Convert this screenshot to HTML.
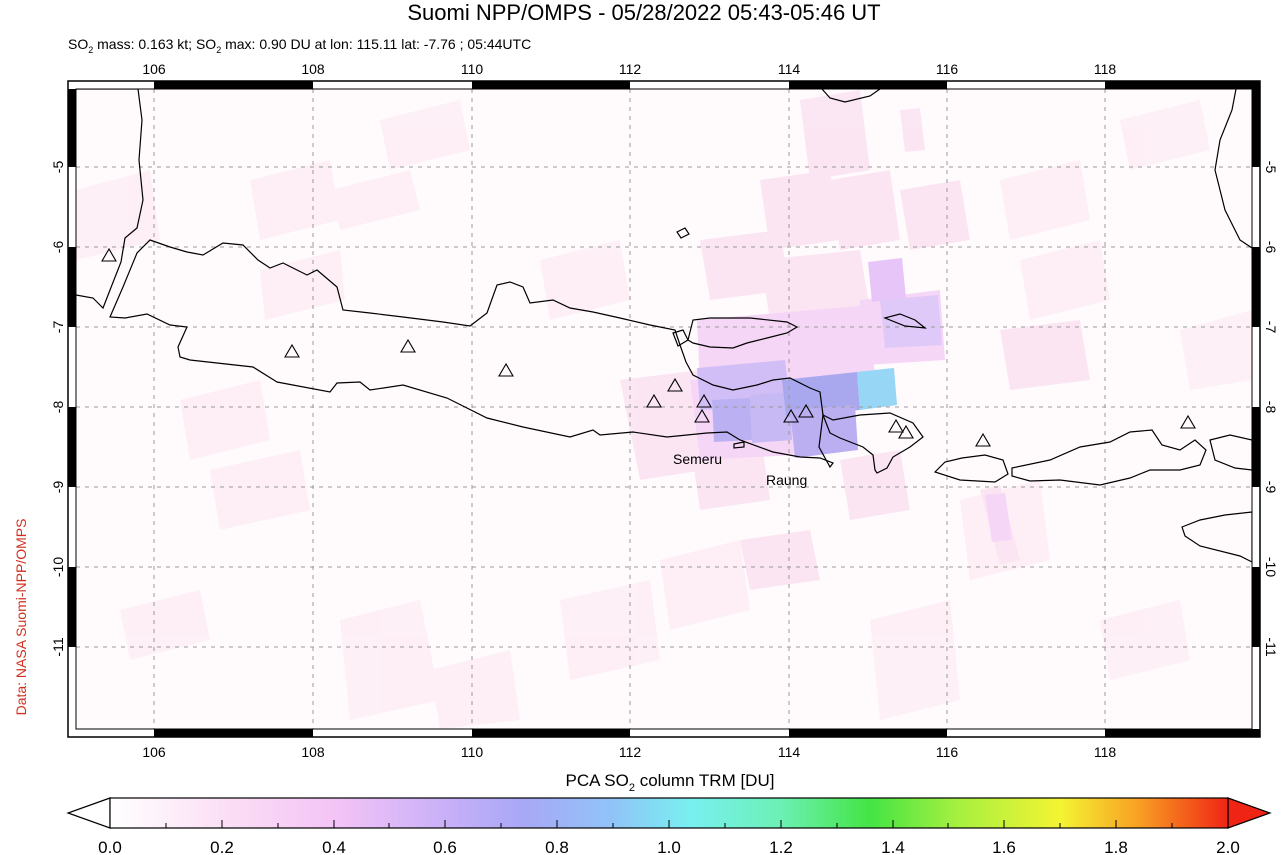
<!DOCTYPE html>
<html><head><meta charset="utf-8"><style>
html,body{margin:0;padding:0;background:#fff;}
svg{display:block;font-family:"Liberation Sans",Arial,sans-serif;}
</style></head><body>
<svg width="1288" height="855" viewBox="0 0 1288 855" xmlns="http://www.w3.org/2000/svg">
<defs>
<linearGradient id="cb" x1="0" x2="1" y1="0" y2="0">
<stop offset="0" stop-color="#ffffff"/>
<stop offset="0.1" stop-color="#fbe0f5"/>
<stop offset="0.2" stop-color="#f4c4f6"/>
<stop offset="0.3" stop-color="#c8b0f8"/>
<stop offset="0.37" stop-color="#a8a8f6"/>
<stop offset="0.45" stop-color="#90c4f8"/>
<stop offset="0.52" stop-color="#78f0f0"/>
<stop offset="0.6" stop-color="#6cf0b4"/>
<stop offset="0.68" stop-color="#44e444"/>
<stop offset="0.76" stop-color="#a8f040"/>
<stop offset="0.85" stop-color="#f4f432"/>
<stop offset="0.92" stop-color="#f8a024"/>
<stop offset="1" stop-color="#f02414"/>
</linearGradient>
<clipPath id="mc"><rect x="76" y="89" width="1176" height="640"/></clipPath>
</defs>
<rect width="1288" height="855" fill="#fff"/>
<text x="644" y="20" font-size="22" text-anchor="middle">Suomi NPP/OMPS - 05/28/2022 05:43-05:46 UT</text>
<text x="68" y="49" font-size="14">SO<tspan font-size="9" dy="4">2</tspan><tspan dy="-4"> mass: 0.163 kt; SO</tspan><tspan font-size="9" dy="4">2</tspan><tspan dy="-4"> max: 0.90 DU at lon: 115.11 lat: -7.76 ; 05:44UTC</tspan></text>

<g clip-path="url(#mc)">
<rect x="76" y="89" width="1176" height="640" fill="#fffbfc"/>
<g opacity="0.9">
<g fill="#fdeef5">
<polygon points="76,190 150,170 160,240 76,260"/>
<polygon points="250,180 330,160 340,220 260,240"/>
<polygon points="330,190 410,170 420,210 340,230"/>
<polygon points="380,120 460,100 470,150 390,170"/>
<polygon points="540,260 620,240 630,300 550,320"/>
<polygon points="210,470 300,450 310,510 220,530"/>
<polygon points="180,400 260,380 270,440 190,460"/>
<polygon points="340,620 420,600 440,700 350,720"/>
<polygon points="120,610 200,590 210,640 130,660"/>
<polygon points="430,670 510,650 520,720 440,729"/>
<polygon points="560,600 650,580 660,660 570,680"/>
<polygon points="870,620 950,600 960,700 880,720"/>
<polygon points="1100,620 1180,600 1190,660 1110,680"/>
<polygon points="1000,180 1080,160 1090,220 1010,240"/>
<polygon points="1120,120 1200,100 1210,150 1130,170"/>
<polygon points="1180,330 1252,310 1252,380 1190,390"/>
<polygon points="960,500 1040,480 1050,560 970,580"/>
<polygon points="1020,260 1100,240 1110,300 1030,320"/>
<polygon points="660,560 740,540 750,610 670,630"/>
<polygon points="260,270 340,250 345,300 265,320"/>
</g>
<g fill="#fbe3f3">
<polygon points="800,100 860,90 870,170 810,180"/>
<polygon points="830,180 890,170 900,240 840,250"/>
<polygon points="760,180 830,170 840,240 770,250"/>
<polygon points="700,240 780,230 790,290 710,300"/>
<polygon points="760,260 860,250 870,310 770,320"/>
<polygon points="900,190 960,180 970,240 910,250"/>
<polygon points="740,540 810,530 820,580 750,590"/>
<polygon points="620,380 700,370 705,470 640,480"/>
<polygon points="690,440 760,430 770,500 700,510"/>
<polygon points="840,460 900,450 910,510 850,520"/>
<polygon points="980,490 1000,485 1020,560 1000,565"/>
<polygon points="1000,330 1080,320 1090,380 1010,390"/>
<polygon points="900,110 920,108 925,150 905,152"/>
</g>
<g fill="#f6d2f6">
<polygon points="697,320 870,305 875,380 700,385"/>
<polygon points="860,300 940,290 945,360 865,365"/>
<polygon points="690,380 790,372 795,455 700,460"/>
<polygon points="985,495 1005,493 1012,540 992,542"/>
</g>
<polygon fill="#e6c0f8" points="868,262 902,258 906,298 872,302"/>
<polygon fill="#dcc4f8" points="880,300 938,295 942,345 885,348"/>
<polygon fill="#ceb8f6" points="697,368 785,360 790,405 700,410"/>
<polygon fill="#b4aaf2" points="712,400 750,398 752,440 714,442"/>
<polygon fill="#c2b2f4" points="750,395 790,392 792,440 752,443"/>
<polygon fill="#a0a0ee" points="782,380 857,372 860,410 786,416"/>
<polygon fill="#b4a6f0" points="790,410 855,405 858,450 795,458"/>
<polygon fill="#8dd2f6" points="857,372 894,368 897,405 860,410"/>
</g>
<g stroke="#999" stroke-width="1" stroke-dasharray="4,5" fill="none">
<path d="M154,89V729M313,89V729M472,89V729M630,89V729M789,89V729M947,89V729M1105,89V729"/>
<path d="M76,167H1252M76,247H1252M76,327H1252M76,407H1252M76,487H1252M76,567H1252M76,647H1252"/>
</g>
<g fill="none" stroke="#000" stroke-width="1.2">
<path d="M76,89 L138,89 142,120 139,160 143,200 137,228 125,238 121,262 110,290 103,308 93,298 76,295"/>
<path d="M110,317 L123,287 137,253 150,240 170,247 187,252 203,255 223,243 243,245 258,260 270,268 283,263 307,275 317,270 337,287 343,310 370,313 403,317 443,322 470,326 487,313 497,285 510,282 523,287 530,303 553,300 570,308 593,312 620,318 650,325 675,330 680,345 686,362 693,375 713,385 733,390 757,385 773,380 790,378 810,388 820,392 823,415 819,447 830,467 833,463 820,458 800,457 773,452 740,440 727,432 707,433 667,437 633,432 600,435 593,430 570,437 523,427 487,418 447,398 403,385 370,390 360,382 337,383 330,392 277,382 253,367 190,360 180,357 178,347 187,327 170,325 147,314 125,318 110,317Z"/>
<path d="M688,340 L693,320 710,318 750,318 787,322 797,327 787,333 767,338 747,343 733,348 710,347 693,343Z"/>
<path d="M823,415 L833,420 860,415 890,413 913,423 923,437 910,447 893,457 887,468 877,473 875,470 873,455 863,447 840,438 830,433Z"/>
<path d="M935,472 L945,462 962,458 985,455 1003,460 1008,474 995,482 960,480Z"/>
<path d="M1012,468 L1050,460 1080,447 1110,442 1130,432 1152,430 1162,445 1180,450 1195,440 1206,450 1200,465 1180,470 1150,470 1130,478 1100,485 1060,480 1030,481 1012,476Z"/>
<path d="M1210,440 L1230,435 1252,440 1252,470 1235,468 1215,460Z"/>
<path d="M1182,527 L1200,520 1225,515 1252,512 1252,562 1240,556 1200,546 1185,536Z"/>
<path d="M822,89 L830,98 845,102 870,96 880,89"/>
<path d="M1236,89 L1232,110 1220,140 1215,170 1225,210 1240,240 1252,248"/>
<path d="M677,232 L685,228 689,234 681,238Z"/>
<path d="M885,318 L900,314 915,320 925,328 905,326Z"/>
<path d="M673,333 L683,330 688,340 678,346Z"/>
<path d="M734,444 L744,442 744,447 734,448Z"/>
</g>
<g fill="none" stroke="#000" stroke-width="1.1">
<path d="M109,249 l-7,12 h14z"/><path d="M292,345 l-7,12 h14z"/><path d="M408,340 l-7,12 h14z"/>
<path d="M506,364 l-7,12 h14z"/><path d="M654,395 l-7,12 h14z"/><path d="M675,379 l-7,12 h14z"/>
<path d="M704,395 l-7,12 h14z"/><path d="M702,410 l-7,12 h14z"/><path d="M791,410 l-7,12 h14z"/>
<path d="M806,405 l-7,12 h14z"/><path d="M896,420 l-7,12 h14z"/><path d="M906,426 l-7,12 h14z"/>
<path d="M983,434 l-7,12 h14z"/><path d="M1188,416 l-7,12 h14z"/>
</g>
<text x="673" y="464" font-size="14">Semeru</text>
<text x="766" y="485" font-size="14">Raung</text>
</g>

<g>
<rect x="68" y="81" width="1192" height="656" fill="none" stroke="#000" stroke-width="1.5"/>
<rect x="76" y="89" width="1176" height="640" fill="none" stroke="#000" stroke-width="1"/>
<g fill="#000">
<rect x="154" y="81" width="159" height="8"/><rect x="472" y="81" width="158" height="8"/><rect x="789" y="81" width="158" height="8"/><rect x="1105" y="81" width="155" height="8"/>
<rect x="154" y="729" width="159" height="8"/><rect x="472" y="729" width="158" height="8"/><rect x="789" y="729" width="158" height="8"/><rect x="1105" y="729" width="155" height="8"/>
<rect x="68" y="89" width="8" height="78"/><rect x="68" y="247" width="8" height="80"/><rect x="68" y="407" width="8" height="80"/><rect x="68" y="567" width="8" height="80"/>
<rect x="1252" y="89" width="8" height="78"/><rect x="1252" y="247" width="8" height="80"/><rect x="1252" y="407" width="8" height="80"/><rect x="1252" y="567" width="8" height="80"/>
</g>
</g>
<g font-size="14" text-anchor="middle">
<text x="154" y="74">106</text><text x="313" y="74">108</text><text x="472" y="74">110</text><text x="630" y="74">112</text><text x="789" y="74">114</text><text x="947" y="74">116</text><text x="1105" y="74">118</text>
<text x="154" y="757">106</text><text x="313" y="757">108</text><text x="472" y="757">110</text><text x="630" y="757">112</text><text x="789" y="757">114</text><text x="947" y="757">116</text><text x="1105" y="757">118</text>
<g transform="translate(63,167) rotate(-90)"><text>-5</text></g>
<g transform="translate(63,247) rotate(-90)"><text>-6</text></g>
<g transform="translate(63,327) rotate(-90)"><text>-7</text></g>
<g transform="translate(63,407) rotate(-90)"><text>-8</text></g>
<g transform="translate(63,487) rotate(-90)"><text>-9</text></g>
<g transform="translate(63,567) rotate(-90)"><text>-10</text></g>
<g transform="translate(63,647) rotate(-90)"><text>-11</text></g>
<g transform="translate(1266,167) rotate(90)"><text>-5</text></g>
<g transform="translate(1266,247) rotate(90)"><text>-6</text></g>
<g transform="translate(1266,327) rotate(90)"><text>-7</text></g>
<g transform="translate(1266,407) rotate(90)"><text>-8</text></g>
<g transform="translate(1266,487) rotate(90)"><text>-9</text></g>
<g transform="translate(1266,567) rotate(90)"><text>-10</text></g>
<g transform="translate(1266,647) rotate(90)"><text>-11</text></g>
</g>
<g transform="translate(26,617) rotate(-90)"><text font-size="14" fill="#d03020" text-anchor="middle">Data: NASA Suomi-NPP/OMPS</text></g>

<text x="670" y="786" font-size="17" text-anchor="middle">PCA SO<tspan font-size="11" dy="5">2</tspan><tspan dy="-5"> column TRM [DU]</tspan></text>
<polygon points="110,798 68,813 110,828" fill="#fff" stroke="#000" stroke-width="1.2"/>
<polygon points="1228,798 1270,813 1228,828" fill="#f02414" stroke="#000" stroke-width="1.2"/>
<rect x="110" y="798" width="1118" height="30" fill="url(#cb)" stroke="#000" stroke-width="1.2"/>
<g stroke="#000" stroke-width="1">
<path d="M166,828v-5M222,828v-8M278,828v-5M334,828v-8M389,828v-5M445,828v-8M501,828v-5M557,828v-8M613,828v-5M669,828v-8M725,828v-5M781,828v-8M837,828v-5M893,828v-8M948,828v-5M1004,828v-8M1060,828v-5M1116,828v-8M1172,828v-5"/>
</g>
<g font-size="17" text-anchor="middle">
<text x="110" y="853">0.0</text><text x="222" y="853">0.2</text><text x="334" y="853">0.4</text><text x="445" y="853">0.6</text><text x="557" y="853">0.8</text><text x="669" y="853">1.0</text><text x="781" y="853">1.2</text><text x="893" y="853">1.4</text><text x="1004" y="853">1.6</text><text x="1116" y="853">1.8</text><text x="1228" y="853">2.0</text>
</g>
</svg>
</body></html>
